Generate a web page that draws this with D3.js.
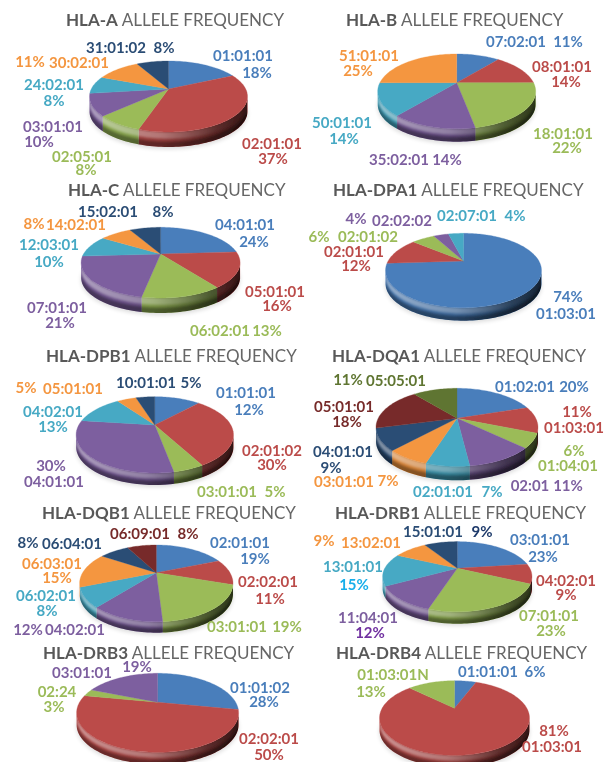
<!DOCTYPE html>
<html lang="en">
<head>
<meta charset="UTF-8">
<title>HLA allele frequency</title>
<script src="https://d3js.org/d3.v7.min.js"></script>
<style>
    body { margin: 0; background: #fff; }
    svg { display: block; }
    text { font-family: Lato, "Open Sans", sans-serif; }
</style>
</head>
<body>
<script>
const width = 611, height = 762;

// data
const loci = ['HLA-A', 'HLA-B', 'HLA-C', 'HLA-DPA1', 'HLA-DPB1', 'HLA-DQA1', 'HLA-DQB1', 'HLA-DRB1', 'HLA-DRB3', 'HLA-DRB4'];
const alleles = [
    ['01:01:01', '02:01:01', '02:05:01', '03:01:01', '24:02:01', '30:02:01', '31:01:02'],
    ['07:02:01', '08:01:01', '18:01:01', '35:02:01', '50:01:01', '51:01:01'],
    ['04:01:01', '05:01:01', '06:02:01', '07:01:01', '12:03:01', '14:02:01', '15:02:01'],
    ['01:03:01', '02:01:01', '02:01:02', '02:02:02', '02:07:01'],
    ['01:01:01', '02:01:02', '03:01:01', '04:01:01', '04:02:01', '05:01:01', '10:01:01'],
    ['01:02:01', '01:03:01', '01:04:01', '02:01', '02:01:01', '03:01:01', '04:01:01', '05:01:01', '05:05:01'],
    ['02:01:01', '02:02:01', '03:01:01', '04:02:01', '06:02:01', '06:03:01', '06:04:01', '06:09:01'],
    ['03:01:01', '04:02:01', '07:01:01', '11:04:01', '13:01:01', '13:02:01', '15:01:01'],
    ['01:01:02', '02:02:01', '02:24', '03:01:01'],
    ['01:01:01', '01:03:01', '01:03:01N']
];
const frequencies = [
    [18, 37, 8, 10, 8, 11, 8],
    [11, 14, 22, 14, 14, 25],
    [24, 16, 13, 21, 10, 8, 8],
    [74, 12, 6, 4, 4],
    [12, 30, 5, 30, 13, 5, 5],
    [20, 11, 6, 11, 7, 7, 9, 18, 11],
    [19, 11, 19, 12, 8, 15, 8, 8],
    [23, 9, 23, 12, 15, 9, 9],
    [28, 50, 3, 19],
    [6, 81, 13]
];

// layout: apex x, apex y, half width, back and front reach of the top face, wall depth
const pieFrames = [
    [168.5, 89, 79, 28, 43, 15],
    [456.7, 82.7, 79, 28.7, 46, 13],
    [160.6, 254, 79.5, 26.7, 44, 15],
    [463.5, 261, 78, 27.7, 46.7, 13],
    [154.8, 425, 78.7, 28.3, 48, 12],
    [457, 418.3, 81, 30, 48, 14],
    [156.3, 572.7, 76.7, 27.7, 49, 11],
    [457.3, 568.3, 74.7, 26.7, 43.4, 12],
    [157.6, 702.3, 81, 29, 50, 12],
    [454.5, 708.3, 75, 27.6, 47, 12]
];
const titleSpots = [[66, 20], [346, 20], [68, 190], [333, 190], [46, 356], [332, 356], [42, 513], [335, 513], [43, 653], [336, 653]];
// allele x, allele y, percent x, percent y (text centres)
const labelSpots = [
    [[243, 56, 257, 73], [272, 144, 273, 159], [82, 157, 86, 170], [53, 127, 39, 142], [54, 85, 54, 101], [79, 63, 30, 62], [116, 48, 164, 48]],
    [[516, 42, 568, 42], [562, 67, 566, 82], [563, 134, 567, 148], [399, 160, 447, 160], [342, 123, 344, 139], [369, 56, 358, 71]],
    [[245, 225, 254, 242], [275, 292, 277, 306], [220, 331, 267, 331], [57, 308, 60, 323], [49, 245, 49, 262], [76, 225, 34, 224], [108, 212, 163, 212]],
    [[566, 314, 568, 297], [354, 252, 356, 266], [368, 237, 319, 237], [402, 221, 356, 219], [467, 216, 515, 216]],
    [[246, 393, 249, 410], [272, 451, 272, 465], [227, 492, 275, 492], [54, 482, 51, 466], [53, 412, 53, 427], [73, 389, 26, 388], [146, 383, 191, 383]],
    [[525, 387, 574, 387], [574, 428, 577, 412], [568, 466, 574, 451], [530, 486, 568, 486], [443, 492, 492, 492], [344, 482, 388, 481], [343, 452, 331, 468], [344, 407, 347, 422], [396, 381, 348, 380]],
    [[240, 543, 255, 559], [268, 582, 270, 599], [237, 627, 287, 627], [75, 630, 28, 630], [46, 596, 47, 611], [52, 564, 57, 578], [72, 544, 28, 543], [140, 534, 188, 534]],
    [[540, 540, 543, 557], [566, 581, 566, 595], [549, 616, 551, 631], [368, 618, 370, 633], [353, 567, 354, 585], [371, 543, 324, 541], [433, 532, 482, 532]],
    [[260, 688, 264, 702], [269, 739, 269, 755], [57, 692, 54, 707], [82, 673, 137, 667]],
    [[488, 672, 535, 672], [552, 747, 554, 731], [393, 675, 371, 692]]
];

const sliceColors = ['#4a7ebb', '#bb4c4a', '#9bbb59', '#7d5f9f', '#46a9c4', '#f49640', '#2c4d75', '#772c2a', '#5f7530'];
// a few percent labels have their own ink in the picture (chart index, slice index)
const percentInk = { '7-4': '#19aeea', '7-3': '#7030a0', '7-6': '#1f3a6b' };

const svg = d3.select('body').append('svg')
    .attr('width', width)
    .attr('height', height)
    .style('background', '#fff');

const defs = svg.append('defs');
defs.append('filter').attr('id', 'soft').attr('x', '-5%').attr('y', '-5%').attr('width', '110%').attr('height', '110%')
    .append('feGaussianBlur').attr('stdDeviation', 0.45);
defs.append('filter').attr('id', 'shade').attr('x', '-20%').attr('y', '-50%').attr('width', '140%').attr('height', '200%')
    .append('feGaussianBlur').attr('stdDeviation', 2);
defs.append('filter').attr('id', 'bandBlur').attr('x', '-10%').attr('y', '-50%').attr('width', '120%').attr('height', '200%')
    .append('feGaussianBlur').attr('stdDeviation', 1.2);

// the wall gets darker towards the right hand side
const wallGrad = defs.append('linearGradient').attr('id', 'wallGrad');
wallGrad.selectAll('stop')
    .data([[0, 0.1], [0.45, 0.22], [0.75, 0.5], [1, 0.72]])
    .join('stop')
    .attr('offset', d => d[0])
    .attr('stop-color', '#000')
    .attr('stop-opacity', d => d[1]);
const lightGrad = defs.append('linearGradient').attr('id', 'lightGrad');
lightGrad.selectAll('stop')
    .data([[0, 0.42], [0.45, 0.3], [0.8, 0.05], [1, 0]])
    .join('stop')
    .attr('offset', d => d[0])
    .attr('stop-color', '#fff')
    .attr('stop-opacity', d => d[1]);

const root = svg.append('g').attr('filter', 'url(#soft)');
const pieLayout = d3.pie().sort(null).startAngle(0).endAngle(2 * Math.PI);
const color = d3.scaleOrdinal().domain(d3.range(sliceColors.length)).range(sliceColors);
const line = d3.line();

loci.forEach((locus, c) => {
    const [ax, ay, rx, back, front, depth] = pieFrames[c];
    const values = frequencies[c];
    const g = root.append('g');

    // the disk is tilted towards the viewer, so its apex sits above the centre of the ellipse
    const k = (front - back) / (front + back);
    const xScale = d3.scaleLinear().domain([-1, 1]).range([ax - rx * Math.sqrt(1 - k * k), ax + rx * Math.sqrt(1 - k * k)]);
    const yScale = d3.scaleLinear().domain([-1, 1]).range([ay - back * (1 + k), ay + back * (1 + k)]);
    const rim = a => {
        const w = 1 + k * Math.cos(a);
        return [xScale(Math.sin(a) / w), yScale(-Math.cos(a) / w)];
    };
    const arcPoints = (a0, a1) => {
        const n = Math.max(2, Math.ceil((a1 - a0) / 0.03));
        return d3.range(n + 1).map(i => rim(a0 + (a1 - a0) * i / n));
    };
    const lift = (pts, dy) => pts.map(p => [p[0], p[1] + dy]);

    const slices = pieLayout(values);
    const frontFrom = Math.acos(-k), frontTo = 2 * Math.PI - frontFrom;
    const frontRim = arcPoints(frontFrom, frontTo);
    const wallOutline = line(frontRim.concat(lift(frontRim, depth).reverse())) + 'Z';

    // soft shadow under the disk
    g.append('path')
        .attr('d', line(lift(arcPoints(0, 2 * Math.PI), depth + 2)) + 'Z')
        .attr('fill', '#000')
        .attr('opacity', 0.14)
        .attr('filter', 'url(#shade)');

    // walls, only where the rim faces the viewer
    g.selectAll('path.wall')
        .data(slices.filter(d => d.endAngle > frontFrom && d.startAngle < frontTo))
        .join('path')
        .attr('class', 'wall')
        .attr('fill', d => color(d.index))
        .attr('d', d => {
            const pts = arcPoints(Math.max(d.startAngle, frontFrom), Math.min(d.endAngle, frontTo));
            return line(pts.concat(lift(pts, depth).reverse())) + 'Z';
        });

    const clipId = 'wallClip' + c;
    defs.append('clipPath').attr('id', clipId).append('path').attr('d', wallOutline);
    const shading = g.append('g').attr('clip-path', `url(#${clipId})`);
    shading.append('path').attr('d', wallOutline).attr('fill', 'url(#wallGrad)');
    // light band under the edge, dark band along the foot of the wall
    shading.append('path')
        .attr('d', line(frontRim.concat(lift(frontRim, depth * 0.45).reverse())) + 'Z')
        .attr('fill', 'url(#lightGrad)')
        .attr('filter', 'url(#bandBlur)');
    shading.append('path')
        .attr('d', line(lift(frontRim, depth * 0.65).concat(lift(frontRim, depth + 3).reverse())) + 'Z')
        .attr('fill', '#000')
        .attr('opacity', 0.35)
        .attr('filter', 'url(#bandBlur)');

    // top face
    g.selectAll('path.face')
        .data(slices)
        .join('path')
        .attr('class', 'face')
        .attr('fill', d => color(d.index))
        .attr('stroke', d => color(d.index))
        .attr('stroke-width', 0.3)
        .attr('d', d => line([[ax, ay]].concat(arcPoints(d.startAngle, d.endAngle))) + 'Z');

    // title, bold locus then regular text
    const title = g.append('text')
        .attr('x', titleSpots[c][0])
        .attr('y', titleSpots[c][1])
        .attr('dy', '0.35em')
        .attr('font-size', 17)
        .attr('fill', '#595959');
    title.append('tspan').attr('font-weight', 700).text(locus);
    title.append('tspan').attr('fill', '#666').text(' ALLELE FREQUENCY');

    // labels
    const labels = g.selectAll('g.label')
        .data(slices)
        .join('g')
        .attr('class', 'label')
        .attr('font-size', 15)
        .attr('font-weight', 700)
        .attr('text-anchor', 'middle');
    labels.append('text')
        .attr('x', d => labelSpots[c][d.index][0])
        .attr('y', d => labelSpots[c][d.index][1])
        .attr('dy', '0.35em')
        .attr('fill', d => color(d.index))
        .text(d => alleles[c][d.index]);
    labels.append('text')
        .attr('x', d => labelSpots[c][d.index][2])
        .attr('y', d => labelSpots[c][d.index][3])
        .attr('dy', '0.35em')
        .attr('fill', d => percentInk[c + '-' + d.index] || color(d.index))
        .text(d => d.value + '%');
});
</script>
</body>
</html>
